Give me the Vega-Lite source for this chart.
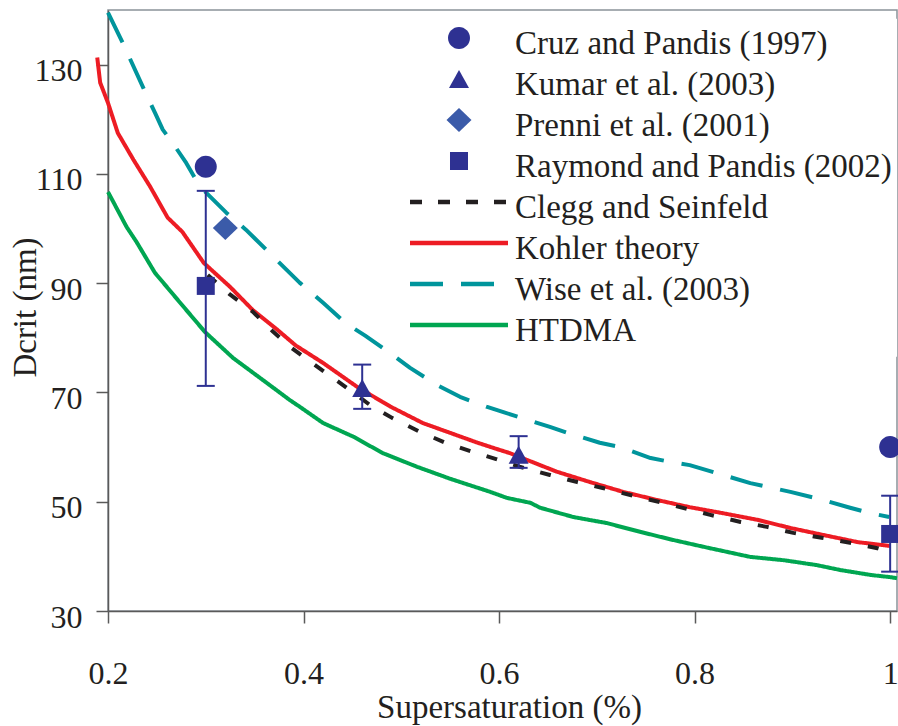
{
  "$schema": "https://vega.github.io/schema/vega-lite/v6.json",
  "width": 789,
  "height": 601,
  "autosize": {"type": "none"},
  "padding": {"left": 108, "top": 10, "right": 1, "bottom": 115},
  "background": "white",
  "datasets": {
    "lines": [
      {"series": "Kohler theory", "x": 0.189, "y": 131.3},
      {"series": "Kohler theory", "x": 0.192, "y": 126.7},
      {"series": "Kohler theory", "x": 0.2, "y": 123.0},
      {"series": "Kohler theory", "x": 0.21, "y": 117.5},
      {"series": "Kohler theory", "x": 0.226, "y": 112.6},
      {"series": "Kohler theory", "x": 0.243, "y": 107.7},
      {"series": "Kohler theory", "x": 0.261, "y": 102.0},
      {"series": "Kohler theory", "x": 0.276, "y": 99.4},
      {"series": "Kohler theory", "x": 0.298, "y": 93.7},
      {"series": "Kohler theory", "x": 0.325, "y": 89.3},
      {"series": "Kohler theory", "x": 0.348, "y": 85.1},
      {"series": "Kohler theory", "x": 0.373, "y": 81.5},
      {"series": "Kohler theory", "x": 0.392, "y": 78.6},
      {"series": "Kohler theory", "x": 0.42, "y": 75.4},
      {"series": "Kohler theory", "x": 0.455, "y": 71.0},
      {"series": "Kohler theory", "x": 0.489, "y": 67.4},
      {"series": "Kohler theory", "x": 0.522, "y": 64.4},
      {"series": "Kohler theory", "x": 0.55, "y": 62.6},
      {"series": "Kohler theory", "x": 0.578, "y": 60.8},
      {"series": "Kohler theory", "x": 0.595, "y": 59.8},
      {"series": "Kohler theory", "x": 0.611, "y": 58.9},
      {"series": "Kohler theory", "x": 0.625, "y": 57.9},
      {"series": "Kohler theory", "x": 0.659, "y": 55.5},
      {"series": "Kohler theory", "x": 0.693, "y": 53.6},
      {"series": "Kohler theory", "x": 0.727, "y": 51.8},
      {"series": "Kohler theory", "x": 0.762, "y": 50.3},
      {"series": "Kohler theory", "x": 0.795, "y": 49.0},
      {"series": "Kohler theory", "x": 0.829, "y": 47.9},
      {"series": "Kohler theory", "x": 0.864, "y": 46.7},
      {"series": "Kohler theory", "x": 0.898, "y": 45.2},
      {"series": "Kohler theory", "x": 0.932, "y": 43.9},
      {"series": "Kohler theory", "x": 0.967, "y": 42.6},
      {"series": "Kohler theory", "x": 1.0, "y": 41.9},
      {"series": "Clegg and Seinfeld", "x": 0.302, "y": 91.5},
      {"series": "Clegg and Seinfeld", "x": 0.325, "y": 87.9},
      {"series": "Clegg and Seinfeld", "x": 0.348, "y": 84.8},
      {"series": "Clegg and Seinfeld", "x": 0.369, "y": 81.1},
      {"series": "Clegg and Seinfeld", "x": 0.388, "y": 78.1},
      {"series": "Clegg and Seinfeld", "x": 0.411, "y": 75.1},
      {"series": "Clegg and Seinfeld", "x": 0.44, "y": 71.4},
      {"series": "Clegg and Seinfeld", "x": 0.468, "y": 67.7},
      {"series": "Clegg and Seinfeld", "x": 0.491, "y": 65.3},
      {"series": "Clegg and Seinfeld", "x": 0.519, "y": 62.8},
      {"series": "Clegg and Seinfeld", "x": 0.545, "y": 60.8},
      {"series": "Clegg and Seinfeld", "x": 0.573, "y": 59.1},
      {"series": "Clegg and Seinfeld", "x": 0.597, "y": 57.8},
      {"series": "Clegg and Seinfeld", "x": 0.621, "y": 56.4},
      {"series": "Clegg and Seinfeld", "x": 0.652, "y": 54.9},
      {"series": "Clegg and Seinfeld", "x": 0.68, "y": 53.6},
      {"series": "Clegg and Seinfeld", "x": 0.706, "y": 52.5},
      {"series": "Clegg and Seinfeld", "x": 0.737, "y": 51.1},
      {"series": "Clegg and Seinfeld", "x": 0.77, "y": 49.7},
      {"series": "Clegg and Seinfeld", "x": 0.816, "y": 47.6},
      {"series": "Clegg and Seinfeld", "x": 0.847, "y": 46.3},
      {"series": "Clegg and Seinfeld", "x": 0.874, "y": 45.4},
      {"series": "Clegg and Seinfeld", "x": 0.901, "y": 44.3},
      {"series": "Clegg and Seinfeld", "x": 0.93, "y": 43.4},
      {"series": "Clegg and Seinfeld", "x": 0.959, "y": 42.5},
      {"series": "Clegg and Seinfeld", "x": 0.987, "y": 41.5},
      {"series": "Clegg and Seinfeld", "x": 0.996, "y": 41.0},
      {"series": "Wise et al. (2003)", "x": 0.2, "y": 139.5},
      {"series": "Wise et al. (2003)", "x": 0.215, "y": 134.0},
      {"series": "Wise et al. (2003)", "x": 0.236, "y": 125.8},
      {"series": "Wise et al. (2003)", "x": 0.248, "y": 121.2},
      {"series": "Wise et al. (2003)", "x": 0.256, "y": 118.1},
      {"series": "Wise et al. (2003)", "x": 0.266, "y": 115.7},
      {"series": "Wise et al. (2003)", "x": 0.28, "y": 112.0},
      {"series": "Wise et al. (2003)", "x": 0.294, "y": 107.7},
      {"series": "Wise et al. (2003)", "x": 0.321, "y": 102.9},
      {"series": "Wise et al. (2003)", "x": 0.341, "y": 99.8},
      {"series": "Wise et al. (2003)", "x": 0.362, "y": 96.1},
      {"series": "Wise et al. (2003)", "x": 0.396, "y": 90.1},
      {"series": "Wise et al. (2003)", "x": 0.42, "y": 86.4},
      {"series": "Wise et al. (2003)", "x": 0.443, "y": 82.7},
      {"series": "Wise et al. (2003)", "x": 0.463, "y": 80.4},
      {"series": "Wise et al. (2003)", "x": 0.488, "y": 77.3},
      {"series": "Wise et al. (2003)", "x": 0.509, "y": 74.5},
      {"series": "Wise et al. (2003)", "x": 0.536, "y": 71.4},
      {"series": "Wise et al. (2003)", "x": 0.56, "y": 69.2},
      {"series": "Wise et al. (2003)", "x": 0.587, "y": 67.4},
      {"series": "Wise et al. (2003)", "x": 0.606, "y": 66.3},
      {"series": "Wise et al. (2003)", "x": 0.652, "y": 63.7},
      {"series": "Wise et al. (2003)", "x": 0.67, "y": 62.6},
      {"series": "Wise et al. (2003)", "x": 0.703, "y": 60.8},
      {"series": "Wise et al. (2003)", "x": 0.724, "y": 60.0},
      {"series": "Wise et al. (2003)", "x": 0.755, "y": 58.0},
      {"series": "Wise et al. (2003)", "x": 0.775, "y": 57.3},
      {"series": "Wise et al. (2003)", "x": 0.795, "y": 56.7},
      {"series": "Wise et al. (2003)", "x": 0.829, "y": 54.9},
      {"series": "Wise et al. (2003)", "x": 0.857, "y": 53.4},
      {"series": "Wise et al. (2003)", "x": 0.898, "y": 51.8},
      {"series": "Wise et al. (2003)", "x": 0.932, "y": 50.3},
      {"series": "Wise et al. (2003)", "x": 0.959, "y": 48.9},
      {"series": "Wise et al. (2003)", "x": 0.98, "y": 47.9},
      {"series": "Wise et al. (2003)", "x": 0.999, "y": 47.2},
      {"series": "HTDMA", "x": 0.2, "y": 106.7},
      {"series": "HTDMA", "x": 0.219, "y": 100.3},
      {"series": "HTDMA", "x": 0.229, "y": 97.6},
      {"series": "HTDMA", "x": 0.248, "y": 91.9},
      {"series": "HTDMA", "x": 0.272, "y": 86.8},
      {"series": "HTDMA", "x": 0.299, "y": 81.1},
      {"series": "HTDMA", "x": 0.328, "y": 76.3},
      {"series": "HTDMA", "x": 0.362, "y": 71.8},
      {"series": "HTDMA", "x": 0.386, "y": 68.6},
      {"series": "HTDMA", "x": 0.396, "y": 67.4},
      {"series": "HTDMA", "x": 0.42, "y": 64.4},
      {"series": "HTDMA", "x": 0.451, "y": 61.9},
      {"series": "HTDMA", "x": 0.481, "y": 58.9},
      {"series": "HTDMA", "x": 0.516, "y": 56.4},
      {"series": "HTDMA", "x": 0.55, "y": 54.2},
      {"series": "HTDMA", "x": 0.591, "y": 51.8},
      {"series": "HTDMA", "x": 0.608, "y": 50.7},
      {"series": "HTDMA", "x": 0.632, "y": 49.8},
      {"series": "HTDMA", "x": 0.642, "y": 48.9},
      {"series": "HTDMA", "x": 0.676, "y": 47.2},
      {"series": "HTDMA", "x": 0.71, "y": 46.1},
      {"series": "HTDMA", "x": 0.744, "y": 44.5},
      {"series": "HTDMA", "x": 0.778, "y": 43.0},
      {"series": "HTDMA", "x": 0.813, "y": 41.6},
      {"series": "HTDMA", "x": 0.857, "y": 39.9},
      {"series": "HTDMA", "x": 0.891, "y": 39.3},
      {"series": "HTDMA", "x": 0.925, "y": 38.4},
      {"series": "HTDMA", "x": 0.949, "y": 37.5},
      {"series": "HTDMA", "x": 0.98, "y": 36.6},
      {"series": "HTDMA", "x": 1.0, "y": 36.2},
      {"series": "HTDMA", "x": 1.007, "y": 36.0}
    ],
    "points": [
      {"series": "Cruz and Pandis (1997)", "x": 0.3, "y": 111.3},
      {"series": "Cruz and Pandis (1997)", "x": 1.0, "y": 60.0},
      {"series": "Kumar et al. (2003)", "x": 0.46, "y": 70.8},
      {"series": "Kumar et al. (2003)", "x": 0.62, "y": 58.6},
      {"series": "Prenni et al. (2001)", "x": 0.32, "y": 100.1},
      {"series": "Raymond and Pandis (2002)", "x": 0.3, "y": 89.5},
      {"series": "Raymond and Pandis (2002)", "x": 1.0, "y": 44.1}
    ],
    "errors": [
      {"x": 0.3, "lo": 71.2, "hi": 106.9},
      {"x": 1.0, "lo": 37.2, "hi": 51.1},
      {"x": 0.46, "lo": 67.0, "hi": 75.1},
      {"x": 0.62, "lo": 56.2, "hi": 62.0}
    ]
  },
  "layer": [
    {
      "data": {"name": "lines"},
      "mark": {"type": "line", "strokeWidth": 4, "strokeCap": "butt", "strokeJoin": "round"},
      "encoding": {
        "x": {
          "field": "x", "type": "quantitative",
          "scale": {"domain": [0.2, 1.007], "nice": false, "zero": false},
          "axis": {
            "values": [0.2, 0.4, 0.6, 0.8, 1.0], "format": "~g", "labelFlush": false,
            "labelFont": "Liberation Serif", "labelFontSize": 32, "labelColor": "#231f20",
            "labelPadding": 35, "tickSize": 12, "tickWidth": 1.5, "tickColor": "#5a5a5a",
            "domainColor": "#5a5a5a", "domainWidth": 1.5, "grid": false,
            "title": "Supersaturation (%)", "titleFont": "Liberation Serif", "titleFontSize": 33,
            "titleFontWeight": "normal", "titleColor": "#231f20",
            "titleX": 401, "titleY": 106, "titleAlign": "center", "titleBaseline": "alphabetic"
          }
        },
        "y": {
          "field": "y", "type": "quantitative",
          "scale": {"domain": [30, 140], "nice": false, "zero": false},
          "axis": {
            "values": [30, 50, 70, 90, 110, 130],
            "labelFont": "Liberation Serif", "labelFontSize": 32, "labelColor": "#231f20",
            "labelPadding": 14, "labelOffset": 6, "tickSize": 12, "tickWidth": 1.5, "tickColor": "#5a5a5a",
            "domainColor": "#5a5a5a", "domainWidth": 1.5, "grid": false,
            "title": "Dcrit (nm)", "titleFont": "Liberation Serif", "titleFontSize": 33,
            "titleFontWeight": "normal", "titleColor": "#231f20",
            "titleX": -73, "titleY": 297, "titleAlign": "center", "titleBaseline": "alphabetic", "titleAngle": 270
          }
        },
        "color": {
          "field": "series", "type": "nominal",
          "scale": {
            "domain": ["Cruz and Pandis (1997)", "Kumar et al. (2003)", "Prenni et al. (2001)", "Raymond and Pandis (2002)", "Clegg and Seinfeld", "Kohler theory", "Wise et al. (2003)", "HTDMA"],
            "range": ["#2e3192", "#2e3192", "#3b5ba9", "#2e3192", "#231f20", "#ed1c24", "#00959c", "#00a651"]
          },
          "legend": {
            "title": null, "orient": "none", "legendX": 297, "legendY": 8.65,
            "fillColor": "white", "padding": 5, "clipHeight": 40.7, "rowPadding": 0,
            "symbolSize": 9604, "symbolStrokeWidth": 0, "symbolOpacity": 1,
            "labelFont": "Liberation Serif", "labelFontSize": 33, "labelColor": "#231f20",
            "labelOffset": 7, "labelLimit": 600,
            "encode": {"symbols": {"update": {"y": {"value": 14.35}}}}
          }
        },
        "strokeDash": {
          "field": "series", "type": "nominal",
          "scale": {
            "domain": ["Clegg and Seinfeld", "Kohler theory", "Wise et al. (2003)", "HTDMA"],
            "range": [[11, 17], [1, 0], [33, 18], [1, 0]]
          },
          "legend": null
        }
      }
    },
    {
      "data": {"name": "errors"},
      "mark": {"type": "rule", "color": "#2e3192", "strokeWidth": 2},
      "encoding": {
        "x": {"field": "x", "type": "quantitative"},
        "y": {"field": "lo", "type": "quantitative"},
        "y2": {"field": "hi"}
      }
    },
    {
      "data": {"name": "errors"},
      "mark": {"type": "tick", "orient": "horizontal", "size": 18, "thickness": 2, "color": "#2e3192", "opacity": 1},
      "encoding": {
        "x": {"field": "x", "type": "quantitative"},
        "y": {"field": "lo", "type": "quantitative"}
      }
    },
    {
      "data": {"name": "errors"},
      "mark": {"type": "tick", "orient": "horizontal", "size": 18, "thickness": 2, "color": "#2e3192", "opacity": 1},
      "encoding": {
        "x": {"field": "x", "type": "quantitative"},
        "y": {"field": "hi", "type": "quantitative"}
      }
    },
    {
      "data": {"name": "points"},
      "mark": {"type": "point", "filled": true, "opacity": 1, "size": 9604, "strokeWidth": 0},
      "encoding": {
        "x": {"field": "x", "type": "quantitative"},
        "y": {"field": "y", "type": "quantitative"},
        "color": {
          "field": "series", "type": "nominal",
          "scale": {
            "domain": ["Cruz and Pandis (1997)", "Kumar et al. (2003)", "Prenni et al. (2001)", "Raymond and Pandis (2002)", "Clegg and Seinfeld", "Kohler theory", "Wise et al. (2003)", "HTDMA"],
            "range": ["#2e3192", "#2e3192", "#3b5ba9", "#2e3192", "#231f20", "#ed1c24", "#00959c", "#00a651"]
          },
          "legend": {
            "title": null, "orient": "none", "legendX": 297, "legendY": 8.65,
            "fillColor": "white", "padding": 5, "clipHeight": 40.7, "rowPadding": 0,
            "symbolSize": 9604, "symbolStrokeWidth": 0, "symbolOpacity": 1,
            "labelFont": "Liberation Serif", "labelFontSize": 33, "labelColor": "#231f20",
            "labelOffset": 7, "labelLimit": 600,
            "encode": {"symbols": {"update": {"y": {"value": 14.35}}}}
          }
        },
        "shape": {
          "field": "series", "type": "nominal",
          "scale": {
            "domain": ["Cruz and Pandis (1997)", "Kumar et al. (2003)", "Prenni et al. (2001)", "Raymond and Pandis (2002)", "Clegg and Seinfeld", "Kohler theory", "Wise et al. (2003)", "HTDMA"],
            "range": [
              "M0.2245,0C0.2245,0.124,0.124,0.2245,0,0.2245C-0.124,0.2245,-0.2245,0.124,-0.2245,0C-0.2245,-0.124,-0.124,-0.2245,0,-0.2245C0.124,-0.2245,0.2245,-0.124,0.2245,0Z",
              "M0,-0.1837L0.2041,0.1837L-0.2041,0.1837Z",
              "M0,-0.245L0.255,0L0,0.245L-0.255,0Z",
              "M-0.1837,-0.1837L0.1837,-0.1837L0.1837,0.1837L-0.1837,0.1837Z",
              "M-1,-0.045L-0.7551,-0.045L-0.7551,0.045L-1,0.045ZM-0.4286,-0.045L-0.1837,-0.045L-0.1837,0.045L-0.4286,0.045ZM0.1429,-0.045L0.3878,-0.045L0.3878,0.045L0.1429,0.045ZM0.7143,-0.045L0.9592,-0.045L0.9592,0.045L0.7143,0.045Z",
              "M-1,-0.045L1,-0.045L1,0.045L-1,0.045Z",
              "M-1,-0.045L-0.3265,-0.045L-0.3265,0.045L-1,0.045ZM0.0408,-0.045L0.7143,-0.045L0.7143,0.045L0.0408,0.045Z",
              "M-1,-0.045L1,-0.045L1,0.045L-1,0.045Z"
            ]
          },
          "legend": {
            "title": null, "orient": "none", "legendX": 297, "legendY": 8.65,
            "fillColor": "white", "padding": 5, "clipHeight": 40.7, "rowPadding": 0,
            "symbolSize": 9604, "symbolStrokeWidth": 0, "symbolOpacity": 1,
            "labelFont": "Liberation Serif", "labelFontSize": 33, "labelColor": "#231f20",
            "labelOffset": 7, "labelLimit": 600,
            "encode": {"symbols": {"update": {"y": {"value": 14.35}}}}
          }
        }
      }
    }
  ],
  "config": {
    "view": {"stroke": "#8b9299", "strokeWidth": 1.5},
    "font": "Liberation Serif"
  }
}
